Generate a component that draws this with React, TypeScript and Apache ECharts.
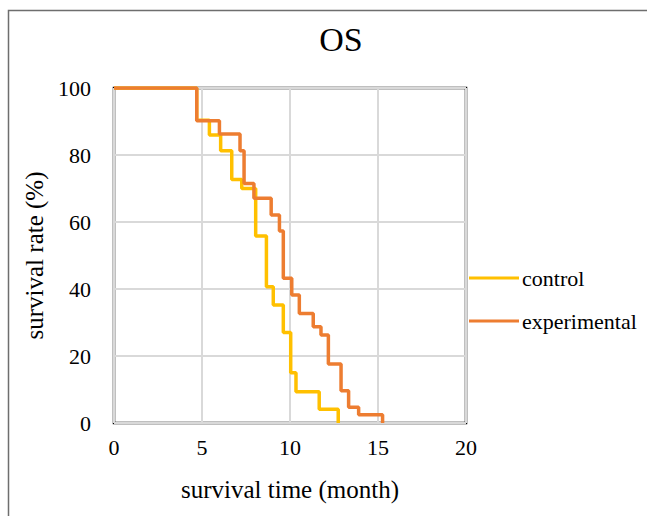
import React, { useEffect, useRef } from "react";
import * as echarts from "echarts";

const TITLE = "OS";
const X_NAME = "survival time (month)";
const Y_NAME = "survival rate (%)";
const SERIES_NAMES = ["control", "experimental"];

const controlTime = [0, 4.7, 5.42, 6.06, 6.69, 7.26, 8.05, 8.66, 9.05, 9.62, 10.04, 10.34, 11.66, 12.74];
const controlRate = [100, 90.4, 86, 81.3, 72.7, 70, 55.8, 40.7, 35.2, 27, 15, 9.3, 4.1, 0];

const expTime = [0, 4.7, 5.99, 7.16, 7.39, 7.95, 8.93, 9.4, 9.62, 10.1, 10.53, 11.32, 11.76, 12.18, 12.9, 13.33, 13.9, 15.26];
const expRate = [100, 90.2, 86.3, 81.3, 71.5, 67.1, 62.1, 57.3, 43.2, 38.2, 32.7, 28.7, 26.3, 17.6, 9.6, 4.7, 2.5, 0];

const X_MIN = 0, X_MAX = 20, X_STEP = 5;
const Y_MIN = 0, Y_MAX = 100, Y_STEP = 20;

const COLORS = ["#FFC000", "#ED7D31"];
const FONT = "Liberation Serif, Times New Roman, serif";

export default function App() {
  const ref = useRef<HTMLDivElement>(null);
  useEffect(() => {
    if (!ref.current) return;
    const chart = echarts.init(ref.current, undefined, { renderer: "svg" });
    const pair = (t: number[], r: number[]) => t.map((x, i) => [x, r[i]]);
    chart.setOption({
      animation: false,
      backgroundColor: "#fff",
      textStyle: { fontFamily: FONT, color: "#000" },
      title: {
        text: TITLE,
        left: 336,
        top: 17,
        textAlign: "center",
        textStyle: { fontFamily: FONT, fontSize: 34, fontWeight: "normal", color: "#000" },
      },
      graphic: [
        {
          type: "rect",
          shape: { x: 8.5, y: 10.5, width: 800, height: 700 },
          style: { fill: "none", stroke: "#6e6e6e", lineWidth: 1.5 },
          silent: true,
        },
      ],
      legend: {
        orient: "vertical",
        left: 464,
        top: 262,
        itemGap: 21,
        itemWidth: 50,
        itemHeight: 3,
        icon: "rect",
        textStyle: { fontFamily: FONT, fontSize: 22, color: "#000", padding: [0, 0, 0, -2] },
        data: SERIES_NAMES,
      },
      grid: {
        left: 114,
        right: 181,
        top: 88,
        bottom: 93,
        show: true,
        borderColor: "#000",
        borderWidth: 2.5,
        backgroundColor: "transparent",
      },
      xAxis: {
        type: "value",
        min: X_MIN,
        max: X_MAX,
        interval: X_STEP,
        name: X_NAME,
        nameLocation: "middle",
        nameGap: 54,
        nameTextStyle: { fontFamily: FONT, fontSize: 25, color: "#000" },
        axisLine: { show: false },
        axisTick: { show: false },
        axisLabel: { fontFamily: FONT, fontSize: 22, color: "#000", margin: 13 },
        splitLine: { show: true, lineStyle: { color: "#d9d9d9", width: 2 } },
      },
      yAxis: {
        type: "value",
        min: Y_MIN,
        max: Y_MAX,
        interval: Y_STEP,
        name: Y_NAME,
        nameLocation: "middle",
        nameGap: 63,
        nameTextStyle: { fontFamily: FONT, fontSize: 25, color: "#000" },
        axisLine: { show: false },
        axisTick: { show: false },
        axisLabel: { fontFamily: FONT, fontSize: 22, color: "#000", margin: 23 },
        splitLine: { show: true, lineStyle: { color: "#d9d9d9", width: 2 } },
      },
      series: [
        {
          name: SERIES_NAMES[0],
          type: "line",
          step: "end",
          showSymbol: false,
          symbol: "none",
          color: COLORS[0],
          lineStyle: { width: 3.5, color: COLORS[0] },
          data: pair(controlTime, controlRate),
          z: 3,
        },
        {
          name: SERIES_NAMES[1],
          type: "line",
          step: "end",
          showSymbol: false,
          symbol: "none",
          color: COLORS[1],
          lineStyle: { width: 3.5, color: COLORS[1] },
          data: pair(expTime, expRate),
          z: 4,
        },
      ],
    });
    return () => chart.dispose();
  }, []);
  return (
    <div
      ref={ref}
      style={{ position: "fixed", left: 0, top: 0, width: 647, height: 516 }}
    />
  );
}
